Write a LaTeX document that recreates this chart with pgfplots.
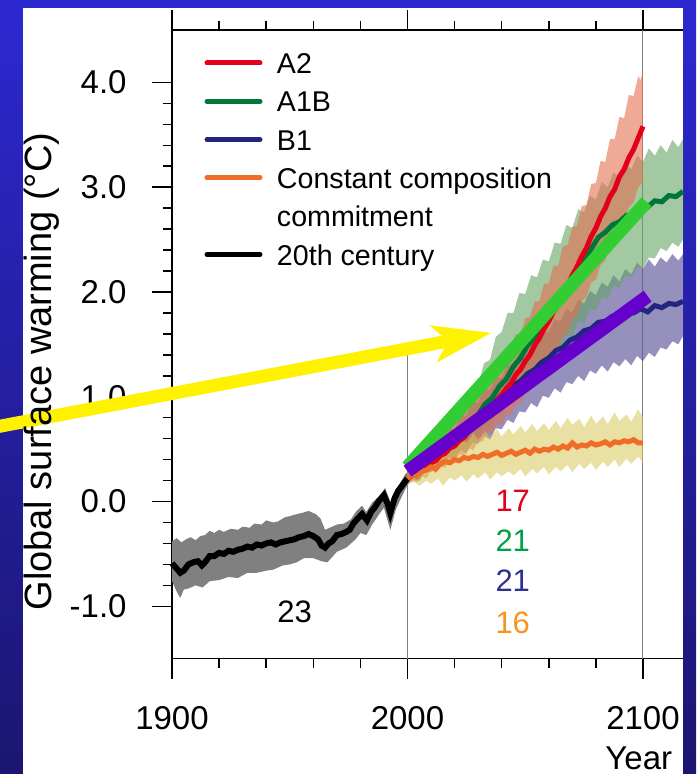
\documentclass[border=0pt]{standalone}
\usepackage{pgfplots}
\pgfplotsset{compat=1.18}
\usetikzlibrary{arrows.meta}
\usepackage{fontspec}
\setmainfont{Liberation Sans}
\definecolor{bgtop}{RGB}{44,40,208}
\definecolor{bgbot}{RGB}{27,22,112}
\definecolor{aTwo}{RGB}{226,0,27}
\definecolor{aTwoBand}{RGB}{228,112,82}
\definecolor{aOneB}{RGB}{0,118,58}
\definecolor{aOneBBand}{RGB}{100,165,100}
\definecolor{bOne}{RGB}{35,38,128}
\definecolor{bOneBand}{RGB}{95,85,155}
\definecolor{ccc}{RGB}{240,108,40}
\definecolor{cccBand}{RGB}{215,200,90}
\definecolor{histBand}{RGB}{128,128,128}
\definecolor{ovGreen}{RGB}{50,205,50}
\definecolor{ovPurple}{RGB}{102,0,204}
\definecolor{numGreen}{RGB}{0,160,70}
\definecolor{numBlue}{RGB}{46,49,146}
\definecolor{numOrange}{RGB}{247,148,29}
\begin{document}
\begin{tikzpicture}
\shade[top color=bgtop, bottom color=bgbot] (-86pt,-57.65pt) rectangle (262pt,329.35pt);
\fill[white] (-74.5pt,-57.65pt) rectangle (255.5pt,325.35pt);
\begin{axis}[
  scale only axis, width=255.5pt, height=314.35pt,
  xmin=1900, xmax=2117, ymin=-1.5, ymax=4.5,
  axis x line*=box, axis y line*=left,
  axis line style={line width=0.75pt, -},
  clip=false,
  xtick={1900,2000,2100}, minor x tick num=4,
  ytick={-1,0,1,2,3,4}, yticklabels={-1.0,0.0,1.0,2.0,3.0,4.0},
  xticklabels={1900,2000,2100},
  minor y tick num=4,
  tick align=outside,
  major tick length=10pt, minor tick length=4.5pt,
  tick style={black, line width=0.75pt},
  ticklabel style={font=\fontsize{16.5}{19}\selectfont, inner sep=0pt},
  yticklabel style={anchor=east, xshift=-12.5pt},
  xticklabel style={anchor=base, yshift=-25.15pt},
  legend cell align=left,
  legend image code/.code={\draw[#1] (0pt,0pt) -- (26.5pt,0pt);},
  legend style={draw=none, fill=none, inner sep=0pt, outer sep=0pt,
    at={(rel axis cs:0.0636,0.978)}, anchor=north west,
    row sep=0pt, column sep=7.25pt,
    font=\fontsize{14.3}{17}\selectfont,
    nodes={inner sep=0pt, text height=14.85pt, text depth=4.3pt}},
]
% grid lines
\addplot[gray, line width=0.5pt, forget plot] coordinates {(2000,-1.5) (2000,1.41)};
\addplot[gray, line width=0.5pt, forget plot] coordinates {(2100,-1.5) (2100,4.5)};
% 20th century band
\addplot[draw=none, fill=histBand, forget plot] coordinates {(1900,-0.38)(1902,-0.35)(1904,-0.39)(1906,-0.36)(1908,-0.34)(1910,-0.37)(1912,-0.33)(1914,-0.32)(1916,-0.28)(1918,-0.30)(1920,-0.27)(1922,-0.29)(1925,-0.26)(1928,-0.27)(1930,-0.24)(1933,-0.25)(1935,-0.21)(1938,-0.22)(1940,-0.18)(1943,-0.20)(1945,-0.19)(1948,-0.15)(1950,-0.14)(1953,-0.12)(1955,-0.11)(1958,-0.09)(1961,-0.12)(1963,-0.16)(1965,-0.27)(1967,-0.25)(1970,-0.22)(1973,-0.21)(1976,-0.17)(1978,-0.10)(1980.7,-0.04)(1982.5,-0.10)(1985,-0.01)(1988,0.05)(1990.5,0.13)(1993,-0.02)(1995,0.10)(1997,0.18)(1999,0.26)(2000,0.28)
(2000,0.16)(1997,0.02)(1995,-0.08)(1992.7,-0.27)(1990,-0.06)(1988,-0.12)(1985,-0.22)(1982.5,-0.32)(1980,-0.30)(1978,-0.36)(1974,-0.44)(1970,-0.48)(1966,-0.58)(1963.5,-0.57)(1960,-0.54)(1956,-0.54)(1953,-0.58)(1950,-0.60)(1947,-0.61)(1943,-0.65)(1940,-0.66)(1936,-0.68)(1932,-0.68)(1928,-0.73)(1924,-0.72)(1920,-0.75)(1916,-0.76)(1913,-0.82)(1910,-0.80)(1907,-0.83)(1905,-0.84)(1903.5,-0.92)(1902,-0.86)(1900,-0.76)} --cycle;
% B1 band
\addplot[draw=none, fill=bOneBand, fill opacity=0.65, forget plot] coordinates {(2000,0.28)(2002.5,0.36)(2005,0.36)(2007.5,0.46)(2010,0.46)(2012.5,0.57)(2015,0.58)(2017.5,0.69)(2020,0.69)(2022.5,0.82)(2025,0.82)(2027.5,0.95)(2030,0.94)(2032.5,1.07)(2035,1.06)(2037.5,1.19)(2040,1.18)(2042.5,1.31)(2045,1.30)(2047.5,1.42)(2050,1.40)(2052.5,1.53)(2055,1.51)(2057.5,1.64)(2060,1.61)(2062.5,1.74)(2065,1.72)(2067.5,1.84)(2070,1.80)(2072.5,1.93)(2075,1.89)(2077.5,2.01)(2080,1.97)(2082.5,2.09)(2085,2.05)(2087.5,2.16)(2090,2.10)(2092.5,2.22)(2095,2.17)(2097.5,2.28)(2100,2.22)(2102.5,2.31)(2105,2.24)(2107.5,2.33)(2110,2.28)(2112.5,2.36)(2115,2.30)(2117,2.36)
(2117,1.58)(2115,1.50)(2112.5,1.53)(2110,1.45)(2107.5,1.47)(2105,1.38)(2102.5,1.42)(2100,1.34)(2097.5,1.39)(2095,1.30)(2092.5,1.36)(2090,1.29)(2087.5,1.33)(2085,1.24)(2082.5,1.30)(2080,1.22)(2077.5,1.25)(2075,1.15)(2072.5,1.20)(2070,1.12)(2067.5,1.14)(2065,1.04)(2062.5,1.08)(2060,0.99)(2057.5,1.01)(2055,0.90)(2052.5,0.94)(2050,0.85)(2047.5,0.86)(2045,0.75)(2042.5,0.78)(2040,0.69)(2037.5,0.70)(2035,0.59)(2032.5,0.63)(2030,0.55)(2027.5,0.56)(2025,0.46)(2022.5,0.49)(2020,0.40)(2017.5,0.42)(2015,0.33)(2012.5,0.36)(2010,0.28)(2007.5,0.28)(2005,0.20)(2002.5,0.21)(2000,0.16)} --cycle;
% A1B band
\addplot[draw=none, fill=aOneBBand, fill opacity=0.6, forget plot] coordinates {(2000,0.28)(2002.5,0.36)(2005,0.36)(2007.5,0.47)(2010,0.47)(2012.5,0.60)(2015,0.60)(2017.5,0.74)(2020,0.74)(2022.5,0.89)(2025,0.90)(2027.5,1.07)(2030,1.10)(2032.5,1.32)(2035,1.35)(2037.5,1.57)(2040,1.62)(2042.5,1.80)(2045,1.80)(2047.5,1.99)(2050,1.98)(2052.5,2.16)(2055,2.14)(2057.5,2.31)(2060,2.29)(2062.5,2.47)(2065,2.46)(2067.5,2.64)(2070,2.61)(2072.5,2.79)(2075,2.76)(2077.5,2.92)(2080,2.88)(2082.5,3.05)(2085,3.00)(2087.5,3.14)(2090,3.09)(2092.5,3.23)(2095,3.17)(2097.5,3.30)(2100,3.24)(2102.5,3.37)(2105,3.30)(2107.5,3.40)(2110,3.33)(2112.5,3.45)(2115,3.38)(2117,3.46)
(2117,2.50)(2115,2.43)(2112.5,2.47)(2110,2.39)(2107.5,2.42)(2105,2.32)(2102.5,2.33)(2100,2.22)(2097.5,2.24)(2095,2.14)(2092.5,2.16)(2090,2.04)(2087.5,2.06)(2085,1.93)(2082.5,1.95)(2080,1.82)(2077.5,1.84)(2075,1.70)(2072.5,1.72)(2070,1.57)(2067.5,1.59)(2065,1.44)(2062.5,1.45)(2060,1.30)(2057.5,1.32)(2055,1.17)(2052.5,1.19)(2050,1.05)(2047.5,1.06)(2045,0.93)(2042.5,0.95)(2040,0.82)(2037.5,0.84)(2035,0.70)(2032.5,0.72)(2030,0.60)(2027.5,0.62)(2025,0.51)(2022.5,0.52)(2020,0.43)(2017.5,0.45)(2015,0.35)(2012.5,0.37)(2010,0.28)(2007.5,0.29)(2005,0.20)(2002.5,0.21)(2000,0.16)} --cycle;
% A2 band
\addplot[draw=none, fill=aTwoBand, fill opacity=0.6, forget plot] coordinates {(2000,0.28)(2002,0.35)(2004,0.36)(2006,0.44)(2008,0.44)(2010,0.54)(2012,0.55)(2014,0.64)(2016,0.64)(2018,0.75)(2020,0.75)(2022,0.86)(2024,0.85)(2026,0.97)(2028,0.97)(2030,1.08)(2032,1.07)(2034,1.20)(2036,1.20)(2038,1.32)(2040,1.31)(2042,1.45)(2044,1.46)(2046,1.60)(2048,1.59)(2050,1.75)(2052,1.76)(2054,1.91)(2056,1.91)(2058,2.08)(2060,2.08)(2062,2.25)(2064,2.25)(2066,2.44)(2068,2.45)(2070,2.62)(2072,2.63)(2074,2.82)(2076,2.83)(2078,3.03)(2080,3.04)(2082,3.25)(2084,3.24)(2086,3.46)(2088,3.46)(2090,3.67)(2092,3.66)(2094,3.88)(2096,3.87)(2098,4.06)(2099,4.02)(2100,4.12)
(2100,3.05)(2098,3.00)(2096,2.85)(2094,2.81)(2092,2.67)(2090,2.63)(2088,2.49)(2086,2.44)(2084,2.30)(2082,2.26)(2080,2.12)(2078,2.09)(2076,1.95)(2074,1.91)(2072,1.77)(2070,1.74)(2068,1.61)(2066,1.58)(2064,1.45)(2062,1.43)(2060,1.31)(2058,1.29)(2056,1.17)(2054,1.16)(2052,1.05)(2050,1.04)(2048,0.93)(2046,0.93)(2044,0.83)(2042,0.83)(2040,0.73)(2038,0.74)(2036,0.65)(2034,0.66)(2032,0.57)(2030,0.58)(2028,0.49)(2026,0.51)(2024,0.43)(2022,0.45)(2020,0.37)(2018,0.40)(2016,0.32)(2014,0.35)(2012,0.27)(2010,0.30)(2008,0.22)(2006,0.25)(2004,0.18)(2002,0.20)(2000,0.16)} --cycle;
% constant composition band
\addplot[draw=none, fill=cccBand, fill opacity=0.55, forget plot] coordinates {(2000,0.27)(2003,0.34)(2005,0.33)(2008,0.44)(2010,0.41)(2013,0.52)(2015,0.48)(2018,0.58)(2020,0.53)(2023,0.62)(2025,0.56)(2028,0.65)(2030,0.59)(2033,0.67)(2035,0.61)(2038,0.69)(2040,0.62)(2043,0.70)(2045,0.64)(2048,0.72)(2050,0.66)(2053,0.74)(2055,0.67)(2058,0.75)(2060,0.68)(2063,0.77)(2065,0.70)(2068,0.80)(2070,0.73)(2073,0.79)(2075,0.71)(2078,0.82)(2080,0.74)(2083,0.81)(2085,0.74)(2088,0.85)(2090,0.77)(2093,0.83)(2095,0.76)(2098,0.88)(2100,0.80)
(2100,0.37)(2098,0.43)(2095,0.36)(2093,0.41)(2090,0.33)(2088,0.40)(2085,0.33)(2083,0.38)(2080,0.30)(2078,0.37)(2075,0.31)(2073,0.36)(2070,0.28)(2068,0.35)(2065,0.29)(2063,0.33)(2060,0.26)(2058,0.33)(2055,0.27)(2053,0.31)(2050,0.24)(2048,0.31)(2045,0.25)(2043,0.29)(2040,0.24)(2038,0.28)(2035,0.21)(2033,0.28)(2030,0.22)(2028,0.26)(2025,0.19)(2023,0.25)(2020,0.20)(2018,0.23)(2015,0.15)(2013,0.22)(2010,0.17)(2008,0.20)(2005,0.15)(2003,0.19)(2000,0.17)} --cycle;
% lines
\addplot[black, line width=3pt, forget plot] coordinates {(1900,-0.59)(1902,-0.64)(1903.5,-0.68)(1905,-0.66)(1907,-0.60)(1909,-0.58)(1911,-0.57)(1912.7,-0.61)(1914,-0.58)(1916,-0.52)(1918,-0.52)(1920,-0.49)(1922,-0.50)(1924,-0.47)(1926,-0.48)(1928,-0.46)(1930,-0.45)(1932,-0.43)(1934,-0.44)(1936,-0.41)(1938,-0.42)(1940,-0.40)(1942,-0.39)(1944,-0.41)(1946,-0.39)(1948,-0.38)(1950,-0.37)(1952,-0.36)(1954,-0.34)(1956,-0.33)(1958,-0.31)(1960,-0.33)(1962,-0.36)(1963.5,-0.42)(1965,-0.44)(1966.5,-0.40)(1968,-0.38)(1970,-0.32)(1972,-0.31)(1974,-0.29)(1975.5,-0.27)(1977,-0.21)(1979,-0.16)(1980.7,-0.12)(1982.8,-0.18)(1984.5,-0.10)(1986.3,-0.05)(1988,0.01)(1990,0.06)(1991.5,-0.02)(1992.7,-0.11)(1994.5,0.03)(1996,0.10)(1998,0.16)(2000,0.22)};
\addplot[bOne, line width=2.5pt, forget plot] coordinates {(2000,0.22)(2003,0.27)(2006,0.31)(2009,0.38)(2012,0.42)(2015,0.51)(2018,0.55)(2021,0.63)(2024,0.67)(2027,0.75)(2030,0.79)(2033,0.87)(2036,0.91)(2039,0.99)(2042,1.03)(2045,1.11)(2048,1.15)(2051,1.22)(2054,1.26)(2057,1.33)(2060,1.37)(2063,1.44)(2066,1.47)(2069,1.54)(2072,1.57)(2075,1.63)(2078,1.65)(2081,1.71)(2084,1.72)(2087,1.77)(2090,1.77)(2093,1.81)(2096,1.80)(2099,1.84)(2102,1.81)(2105,1.87)(2108,1.85)(2111,1.89)(2114,1.88)(2117,1.91)};
\addplot[aOneB, line width=2.5pt, forget plot] coordinates {(2000,0.22)(2003,0.28)(2006,0.32)(2009,0.39)(2012,0.43)(2015,0.51)(2018,0.55)(2021,0.63)(2024,0.68)(2027,0.77)(2030,0.83)(2033,0.93)(2036,0.99)(2039,1.10)(2042,1.17)(2045,1.29)(2048,1.37)(2051,1.49)(2054,1.57)(2057,1.69)(2060,1.77)(2063,1.89)(2066,1.97)(2069,2.09)(2072,2.19)(2075,2.32)(2078,2.41)(2081,2.52)(2084,2.57)(2087,2.64)(2090,2.67)(2093,2.73)(2096,2.74)(2099,2.80)(2102,2.81)(2105,2.87)(2108,2.86)(2111,2.92)(2114,2.91)(2117,2.96)};
\addplot[aTwo, line width=2.5pt, forget plot] coordinates {(2000,0.22)(2002,0.25)(2004,0.27)(2006,0.31)(2008,0.32)(2010,0.37)(2012,0.39)(2014,0.44)(2016,0.46)(2018,0.51)(2020,0.53)(2022,0.58)(2024,0.61)(2026,0.67)(2028,0.70)(2030,0.76)(2032,0.80)(2034,0.86)(2036,0.91)(2038,0.97)(2040,1.02)(2042,1.08)(2044,1.13)(2046,1.21)(2048,1.26)(2050,1.34)(2052,1.40)(2054,1.49)(2056,1.56)(2058,1.65)(2060,1.72)(2062,1.81)(2064,1.88)(2066,1.98)(2068,2.06)(2070,2.16)(2072,2.24)(2074,2.34)(2076,2.42)(2078,2.53)(2080,2.61)(2082,2.72)(2084,2.80)(2086,2.91)(2088,2.98)(2090,3.10)(2092,3.17)(2094,3.28)(2096,3.36)(2098,3.47)(2100,3.58)};
\addplot[ccc, line width=2.5pt, forget plot] coordinates {(2000,0.22)(2002,0.26)(2004,0.24)(2006,0.29)(2008,0.30)(2010,0.33)(2012,0.31)(2014,0.36)(2016,0.38)(2018,0.37)(2020,0.40)(2022,0.39)(2024,0.42)(2026,0.41)(2028,0.43)(2030,0.42)(2032,0.45)(2034,0.43)(2036,0.45)(2038,0.47)(2040,0.44)(2042,0.46)(2044,0.48)(2046,0.45)(2048,0.47)(2050,0.49)(2052,0.46)(2054,0.50)(2056,0.48)(2058,0.50)(2060,0.49)(2062,0.52)(2064,0.50)(2066,0.53)(2068,0.51)(2070,0.56)(2072,0.52)(2074,0.54)(2076,0.53)(2078,0.56)(2080,0.54)(2082,0.55)(2084,0.57)(2086,0.54)(2088,0.57)(2090,0.56)(2092,0.58)(2094,0.57)(2096,0.59)(2098,0.56)(2100,0.56)};
% overlay trend lines
\addplot[ovGreen, line width=6.7pt, forget plot] coordinates {(2000,0.33)(2101.5,2.86)};
\addplot[ovPurple, line width=6.7pt, forget plot] coordinates {(2000,0.29)(2102,1.96)};
% legend
\addlegendimage{aTwo, line width=2.5pt, line cap=round}\addlegendentry{A2}
\addlegendimage{aOneB, line width=2.5pt, line cap=round}\addlegendentry{A1B}
\addlegendimage{bOne, line width=2.5pt, line cap=round}\addlegendentry{B1}
\addlegendimage{ccc, line width=2.5pt, line cap=round}\addlegendentry{Constant composition}
\addlegendimage{white, line width=0pt}\addlegendentry{commitment}
\addlegendimage{black, line width=2.5pt, line cap=round}\addlegendentry{20th century}
% arrow
\draw[yellow, line width=6.5pt, -{Stealth[length=29pt, width=18pt, inset=7pt]}] (axis cs:1822.6,0.70) -- (axis cs:2035.7,1.61);
% numbers
\node[anchor=base, font=\fontsize{15.5}{18}\selectfont] at (axis cs:1952.1,-1.155) {23};
\node[aTwo, anchor=base, font=\fontsize{15.5}{18}\selectfont] at (axis cs:2044.7,-0.095) {17};
\node[numGreen, anchor=base, font=\fontsize{15.5}{18}\selectfont] at (axis cs:2044.7,-0.477) {21};
\node[numBlue, anchor=base, font=\fontsize{15.5}{18}\selectfont] at (axis cs:2044.7,-0.859) {21};
\node[numOrange, anchor=base, font=\fontsize{15.5}{18}\selectfont] at (axis cs:2044.7,-1.26) {16};
\node[anchor=base west, font=\fontsize{16.5}{19}\selectfont, inner sep=0pt] at (axis cs:2083.9,-2.56) {Year};
\node[rotate=90, anchor=base, inner sep=0pt, font=\fontsize{19}{22}\selectfont] at (axis cs:1848.9,1.24) {Global surface warming (°C)};
\end{axis}
\pgfresetboundingbox
\useasboundingbox (-86pt,-57.65pt) rectangle (262pt,329.35pt);
\end{tikzpicture}
\end{document}
